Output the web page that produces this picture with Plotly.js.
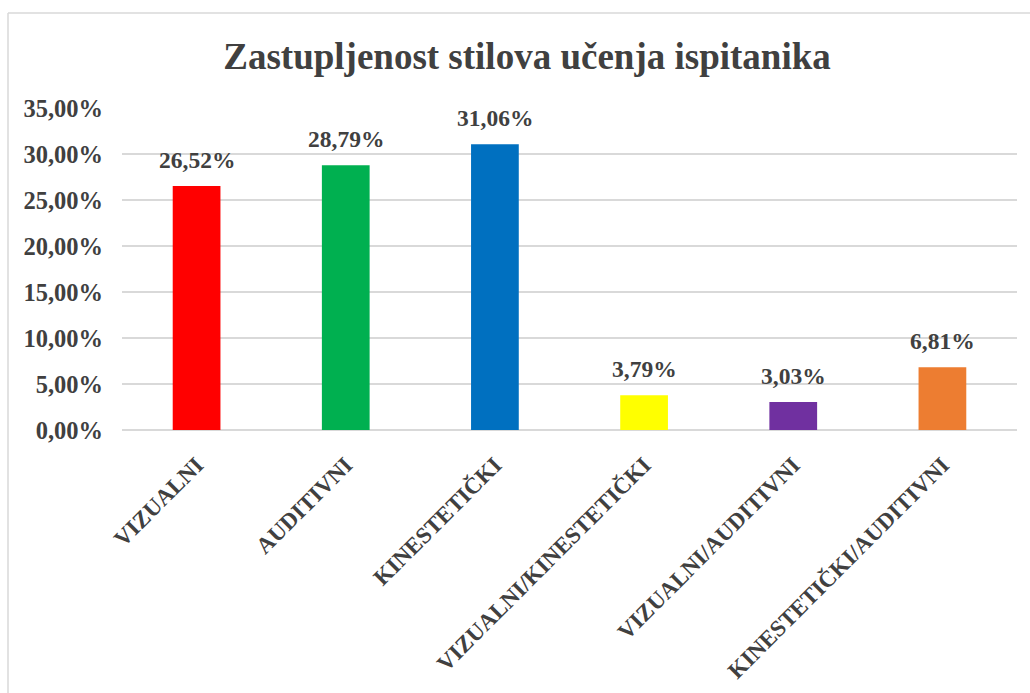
<!DOCTYPE html>
<html>
<head>
<meta charset="utf-8">
<script src="https://cdn.plot.ly/plotly-3.0.1.min.js"></script>
<style>html,body{margin:0;padding:0;background:#fff;}#chart{width:1030px;height:693px;}</style>
</head>
<body>
<div id="chart"></div>
<script>
const categories = ["VIZUALNI", "AUDITIVNI", "KINESTETIČKI", "VIZUALNI/KINESTETIČKI", "VIZUALNI/AUDITIVNI", "KINESTETIČKI/AUDITIVNI"];
const values = [26.52, 28.79, 31.06, 3.79, 3.03, 6.81];
const barColors = ["#FF0000", "#00B050", "#0070C0", "#FFFF00", "#7030A0", "#ED7D31"];
const tickValues = [0, 5, 10, 15, 20, 25, 30, 35];
const tickLabels = ["0,00%", "5,00%", "10,00%", "15,00%", "20,00%", "25,00%", "30,00%", "35,00%"];
const chartTitle = "Zastupljenost stilova učenja ispitanika";

const fontFam = "Liberation Serif, Times New Roman, serif";
const txtColor = "#404040";

function fmt(v){ return v.toFixed(2).replace('.', ',') + '%'; }

const trace = {
  type: 'bar',
  x: categories,
  y: values,
  marker: {color: barColors},
  hoverinfo: 'none'
};

const annotations = categories.map((c, i) => ({
  x: c, y: values[i], xref: 'x', yref: 'y',
  text: '<b>' + fmt(values[i]) + '</b>',
  showarrow: false, yanchor: 'bottom', yshift: 11,
  font: {family: fontFam, size: 23.5, color: txtColor}
}));

const layout = {
  width: 1030, height: 693,
  margin: {l: 122, r: 13, t: 108, b: 263},
  paper_bgcolor: '#fff', plot_bgcolor: '#fff',
  bargap: 0.68,
  showlegend: false,
  font: {family: fontFam, color: txtColor},
  title: {
    text: '<b>' + chartTitle + '</b>',
    font: {family: fontFam, size: 37, color: txtColor},
    x: 527/1030, xref: 'container', xanchor: 'center',
    y: 1 - 56/693, yref: 'container', yanchor: 'middle'
  },
  xaxis: {
    tickangle: -45,
    tickfont: {family: fontFam, size: 23, color: txtColor, weight: 'bold'},
    ticklabelstandoff: 16,
    showgrid: false, showline: false, zeroline: false, ticks: ''
  },
  yaxis: {
    range: [0, 35],
    tickvals: tickValues,
    ticktext: tickLabels,
    tickfont: {family: fontFam, size: 24.5, color: txtColor, weight: 'bold'},
    ticklabelstandoff: 18,
    showgrid: true, gridcolor: '#D9D9D9', gridwidth: 1.5,
    zeroline: true, zerolinecolor: '#D9D9D9', zerolinewidth: 1.5,
    showline: false, ticks: ''
  },
  annotations: annotations,
  shapes: [
    {type: 'line', xref: 'paper', yref: 'paper', x0: (8-122)/895, x1: (8-122)/895, y0: 1 + (108-13)/322, y1: (430-700)/322, line: {color: '#D9D9D9', width: 1.5}},
    {type: 'line', xref: 'paper', yref: 'paper', x0: (8-122)/895, x1: (1035-122)/895, y0: 1 + (108-13)/322, y1: 1 + (108-13)/322, line: {color: '#D9D9D9', width: 1.5}}
  ]
};

Plotly.newPlot('chart', [trace], layout, {displayModeBar: false, staticPlot: true});
</script>
</body>
</html>
